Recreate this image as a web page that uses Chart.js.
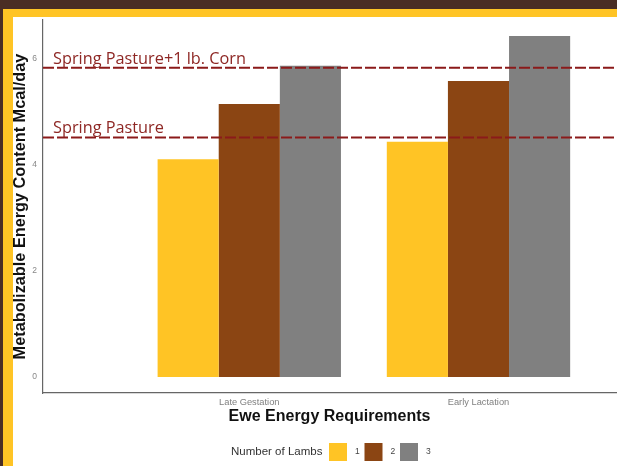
<!DOCTYPE html>
<html>
<head>
<meta charset="utf-8">
<script src="https://cdn.jsdelivr.net/npm/chart.js@4"></script>
<style>
  body { margin: 0; width: 617px; height: 466px; overflow: hidden; background: #4a2d24; position: relative; }
  #frame { position: absolute; left: 3px; top: 9px; right: 0; bottom: 0; background: #ffc425; }
  #paper { position: absolute; left: 13px; top: 17px; right: 0; bottom: 0; background: #fff; }
  #wrap { position: absolute; left: 0; top: 0; width: 617px; height: 466px; }
</style>
</head>
<body>
<div id="frame"></div>
<div id="paper"></div>
<div id="wrap"><canvas id="energyChart" width="617" height="466"></canvas></div>
<script>
// Ewe energy requirements by number of lambs
const categories = ['Late Gestation', 'Early Lactation'];
const lambCounts = ['1', '2', '3'];
const oneLamb = [4.1, 4.43];
const twoLambs = [5.14, 5.57];
const threeLambs = [5.86, 6.42];
const yTicks = [0, 2, 4, 6];

// Reference feed levels (dashed lines)
const pastureLevels = [5.82, 4.51];
const pastureLabels = ['Spring Pasture+1 lb. Corn', 'Spring Pasture'];

const barColors = ['#ffc425', '#8b4513', '#808080'];

const toPoints = arr => arr.map((v, i) => ({ x: i + 1, y: v }));

// dashed pasture lines + their labels
const pastureLines = {
  id: 'pastureLines',
  afterDatasetsDraw(chart) {
    const { ctx, chartArea, scales: { y } } = chart;
    ctx.save();
    pastureLevels.forEach((v, i) => {
      const py = y.getPixelForValue(v);
      ctx.strokeStyle = '#8b1a1a';
      ctx.lineWidth = 2;
      ctx.setLineDash([11, 3]);
      ctx.beginPath();
      ctx.moveTo(chartArea.left, py);
      ctx.lineTo(chart.width, py);
      ctx.stroke();
      ctx.fillStyle = '#8e2724';
      ctx.font = '16.3px "Open Sans"';
      ctx.textBaseline = 'alphabetic';
      ctx.fillText(pastureLabels[i], chartArea.left + 10, py - 4);
    });
    ctx.restore();
  }
};

// ggplot-style legend row at the bottom
const lambLegend = {
  id: 'lambLegend',
  afterDraw(chart) {
    const { ctx } = chart;
    const cy = 452;
    ctx.save();
    ctx.textBaseline = 'middle';
    ctx.font = '11.5px "Liberation Sans"';
    ctx.fillStyle = '#333';
    ctx.fillText('Number of Lambs', 231, cy);
    let x = 329;
    chart.data.datasets.forEach(ds => {
      ctx.fillStyle = ds.backgroundColor;
      ctx.fillRect(x, cy - 9, 18, 18);
      ctx.fillStyle = '#444';
      ctx.font = '8.5px "Liberation Sans"';
      ctx.fillText(ds.label, x + 26, cy);
      x += 35.5;
    });
    ctx.restore();
  }
};

new Chart(document.getElementById('energyChart'), {
  type: 'bar',
  data: {
    datasets: [
      { label: lambCounts[0], data: toPoints(oneLamb), backgroundColor: barColors[0] },
      { label: lambCounts[1], data: toPoints(twoLambs), backgroundColor: barColors[1] },
      { label: lambCounts[2], data: toPoints(threeLambs), backgroundColor: barColors[2] }
    ]
  },
  options: {
    responsive: false,
    animation: false,
    categoryPercentage: 0.8,
    barPercentage: 1.0,
    layout: { padding: { left: 0, top: 20, right: 1, bottom: 30 } },
    plugins: {
      legend: { display: false },
      tooltip: { enabled: false }
    },
    scales: {
      x: {
        type: 'linear',
        offset: false,
        min: 0.1,
        max: 2.6,
        afterBuildTicks: scale => { scale.ticks = categories.map((c, i) => ({ value: i + 1 })); },
        afterFit: scale => { scale.height = 43; },
        grid: { display: false, drawTicks: false },
        border: { display: true, color: '#666', width: 1.2 },
        ticks: {
          padding: 4,
          color: '#808080',
          font: { family: 'Liberation Sans', size: 9.3 },
          maxRotation: 0,
          callback: v => categories[v - 1]
        },
        title: {
          display: true,
          text: 'Ewe Energy Requirements',
          color: '#111',
          font: { family: 'Liberation Sans', size: 16, weight: 'bold' },
          padding: { top: 0, bottom: 10 }
        }
      },
      y: {
        min: -0.3,
        max: 6.72,
        afterBuildTicks: scale => { scale.ticks = yTicks.map(v => ({ value: v })); },
        afterFit: scale => { scale.width = 43; },
        grid: { display: false, drawTicks: false },
        border: { display: true, color: '#666', width: 1.2 },
        ticks: {
          padding: 6,
          color: '#888',
          font: { family: 'Liberation Sans', size: 8.5 }
        },
        title: {
          display: true,
          text: 'Metabolizable Energy Content Mcal/day',
          color: '#111',
          font: { family: 'Liberation Sans', size: 16.3, weight: 'bold' },
          padding: { top: 10.5, bottom: 0 }
        }
      }
    }
  },
  plugins: [pastureLines, lambLegend]
});
</script>
</body>
</html>
